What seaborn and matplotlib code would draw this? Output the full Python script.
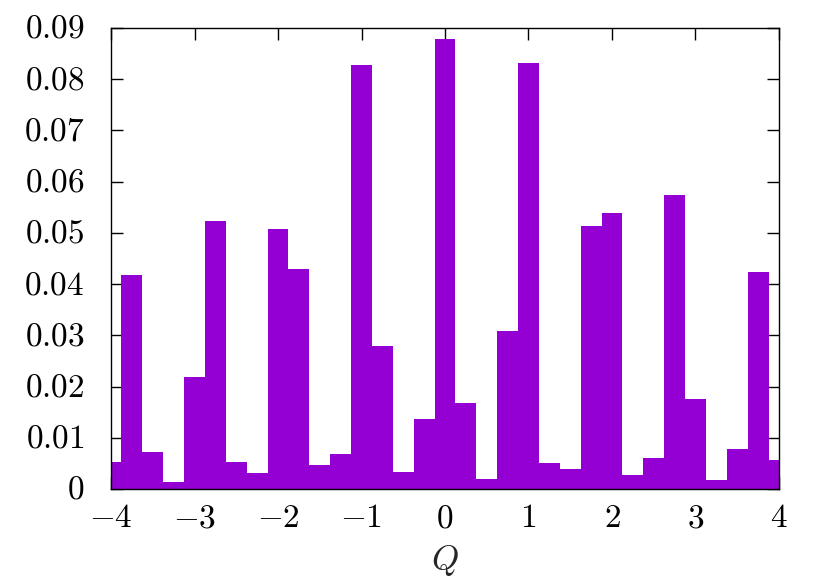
import numpy as np
import pandas as pd
import matplotlib
matplotlib.use("Agg")
import matplotlib.pyplot as plt
import matplotlib.transforms as mtransforms
import seaborn as sns

# histogram of Q, bins of width 0.25 centred on multiples of 0.25
q_centers = [-4.00, -3.75, -3.50, -3.25, -3.00, -2.75, -2.50, -2.25, -2.00,
             -1.75, -1.50, -1.25, -1.00, -0.75, -0.50, -0.25, 0.00, 0.25,
             0.50, 0.75, 1.00, 1.25, 1.50, 1.75, 2.00, 2.25, 2.50, 2.75,
             3.00, 3.25, 3.50, 3.75, 4.00]
freq = [0.0052, 0.0417, 0.0073, 0.0013, 0.0219, 0.0523, 0.0052, 0.0032, 0.0508,
        0.0430, 0.0046, 0.0069, 0.0827, 0.0279, 0.0034, 0.0137, 0.0879, 0.0167,
        0.0019, 0.0308, 0.0831, 0.0051, 0.0040, 0.0513, 0.0538, 0.0027, 0.0060,
        0.0574, 0.0176, 0.0017, 0.0078, 0.0424, 0.0056]
x_ticks = [-4, -3, -2, -1, 0, 1, 2, 3, 4]
y_ticks = [0, 0.01, 0.02, 0.03, 0.04, 0.05, 0.06, 0.07, 0.08, 0.09]

df = pd.DataFrame({"Q": q_centers, "freq": freq})

sns.set_style("ticks")
plt.rcParams["mathtext.fontset"] = "cm"

fig = plt.figure(figsize=(8.31, 5.82), dpi=100)
ax = fig.add_axes([0.1336, 0.1598, 0.8038, 0.7921])

sns.histplot(data=df, x="Q", weights="freq", binwidth=0.25, binrange=(-4.125, 4.125),
             color="#9400d3", alpha=1, linewidth=0, ax=ax)

ax.set_xlim(-4, 4)
ax.set_ylim(0, 0.09)
ax.set_xticks(x_ticks)
ax.set_xticklabels(["$%d$" % t for t in x_ticks])
ax.set_yticks(y_ticks)
ax.set_yticklabels(["$0$"] + ["$%.2f$" % t for t in y_ticks[1:]])
ax.tick_params(direction="in", length=8.5, width=1, colors="black", labelsize=24,
               top=True, right=True)
ax.tick_params(axis="y", pad=19)
ax.tick_params(axis="x", pad=9)
for s in ax.spines.values():
    s.set_visible(True)
    s.set_linewidth(1)
    s.set_color("black")

# y labels sit a few pixels above their ticks
shift = mtransforms.ScaledTranslation(0, 3 / 100, fig.dpi_scale_trans)
for lab in ax.get_yticklabels():
    lab.set_transform(lab.get_transform() + shift)

ax.set_ylabel("")
ax.set_xlabel("$Q$", fontsize=25, labelpad=6)

fig.savefig("out.png", dpi=100)
